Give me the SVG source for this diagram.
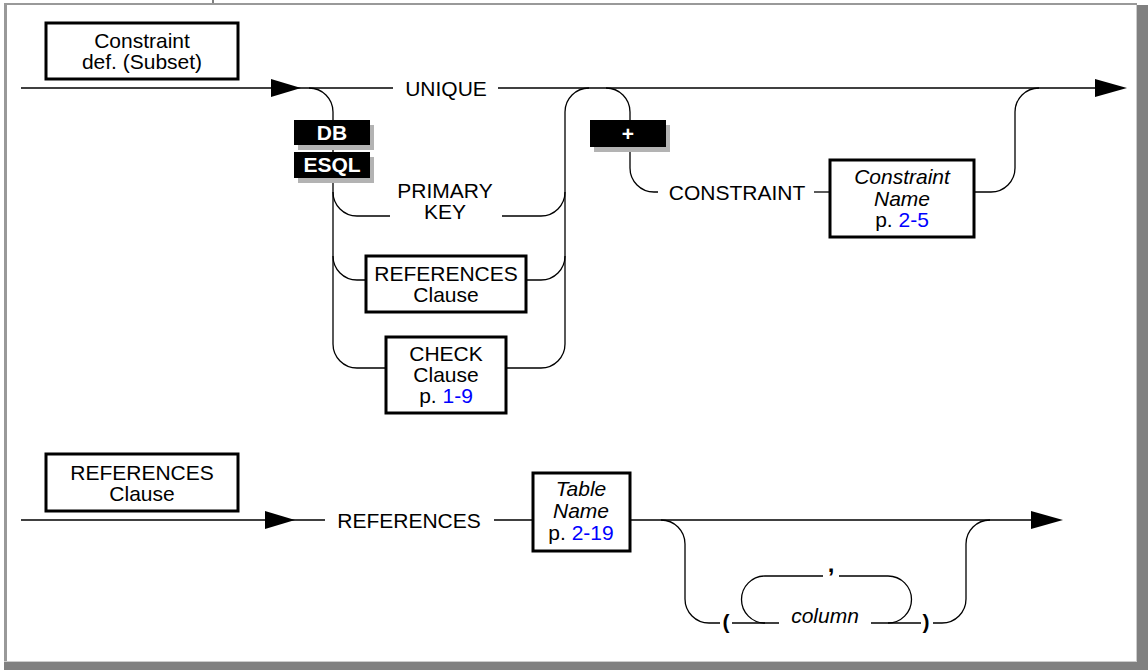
<svg xmlns="http://www.w3.org/2000/svg" width="1148" height="670" viewBox="0 0 1148 670">
<style>
text{font-family:"Liberation Sans",Arial,sans-serif;font-size:21px;fill:#000}
.c{text-anchor:middle}
.i{font-style:italic}
.b{font-weight:bold;font-size:21px}
.cm{font-weight:bold;font-size:24px}
.w{fill:#fff;font-weight:bold}
.lnk{fill:#0000ff}
.box{fill:#fff;stroke:#000;stroke-width:3}
.ln{fill:none;stroke:#000;stroke-width:1.3}
.badge{fill:#000}
.shadow{fill:#b3b3b3}
.ah{fill:#000}
</style>
<rect x="0" y="0" width="1148" height="670" fill="#fff"/>
<g id="frame">
<line x1="213" y1="0" x2="213" y2="3" stroke="#000" stroke-width="1"/>
<rect x="4" y="3" width="1133" height="2" fill="#999"/>
<rect x="4" y="3" width="3" height="658" fill="#999"/>
<rect x="1136" y="5" width="1" height="656" fill="#ccc"/>
<rect x="1137" y="5" width="11" height="665" fill="#808080"/>
<rect x="4" y="661" width="1133" height="1" fill="#ccc"/>
<rect x="4" y="662" width="1144" height="8" fill="#808080"/>
</g>
<g id="connectors">
<path class="ln" d="M21,88 H393"/>
<path class="ln" d="M498,88 H1100"/>
<path class="ln" d="M309,88 A24,24 0 0 1 333,112 V344 A24,24 0 0 0 357,368 H385"/>
<path class="ln" d="M333,192 A24,24 0 0 0 357,216 H390"/>
<path class="ln" d="M502,216 H541 A24,24 0 0 0 565,192"/>
<path class="ln" d="M333,256 A24,24 0 0 0 357,280 H365"/>
<path class="ln" d="M527,280 H541 A24,24 0 0 0 565,256"/>
<path class="ln" d="M507,368 H541 A24,24 0 0 0 565,344 V112 A24,24 0 0 1 589,88"/>
<path class="ln" d="M606,88 A24,24 0 0 1 630,112 V168 A24,24 0 0 0 654,192 H658"/>
<path class="ln" d="M814,192 H829"/>
<path class="ln" d="M975,192 H991 A24,24 0 0 0 1015,168 V112 A24,24 0 0 1 1039,88"/>
<polygon class="ah" points="271,79 301,88 271,97"/>
<polygon class="ah" points="1095,79 1127,88 1095,97"/>
<path class="ln" d="M21,520 H325"/>
<path class="ln" d="M494,520 H532"/>
<path class="ln" d="M631,520 H1035"/>
<path class="ln" d="M661,520 A24,24 0 0 1 685,544 V599 A24,24 0 0 0 709,623 H720"/>
<path class="ln" d="M732,623 H779"/>
<path class="ln" d="M871,623 H921"/>
<path class="ln" d="M933,623 H942 A24,24 0 0 0 966,599 V544 A24,24 0 0 1 990,520"/>
<path class="ln" d="M765,623 A23.5,23.5 0 0 1 765,576 H823"/>
<path class="ln" d="M839,576 H888 A23.5,23.5 0 0 1 888,623"/>
<polygon class="ah" points="265,511 295,520 265,529"/>
<polygon class="ah" points="1031,511 1063,520 1031,529"/>
</g>
<g id="hdr1">
<rect class="box" x="46" y="23" width="192" height="56"/>
<text class="c" x="142" y="48">Constraint</text>
<text class="c" x="142" y="69">def. (Subset)</text>
</g>
<g id="unique"><text class="c" x="446" y="95.5">UNIQUE</text></g>
<g id="db">
<rect class="shadow" x="298" y="125" width="76" height="25"/>
<rect class="badge" x="294" y="120" width="76" height="25"/>
<text class="c w" x="332" y="140">DB</text>
</g>
<g id="esql">
<rect class="shadow" x="298" y="157" width="76" height="26"/>
<rect class="badge" x="294" y="152" width="76" height="26"/>
<text class="c w" x="332" y="172">ESQL</text>
</g>
<g id="pk">
<text class="c" x="445" y="198">PRIMARY</text>
<text class="c" x="445" y="219">KEY</text>
</g>
<g id="refclause">
<rect class="box" x="366" y="256" width="160" height="56"/>
<text class="c" x="446" y="281">REFERENCES</text>
<text class="c" x="446" y="302">Clause</text>
</g>
<g id="check">
<rect class="box" x="386" y="337" width="120" height="76"/>
<text class="c" x="446" y="361">CHECK</text>
<text class="c" x="446" y="382">Clause</text>
<text class="c" x="446" y="403">p. <tspan class="lnk">1-9</tspan></text>
</g>
<g id="plus">
<rect class="shadow" x="594" y="125" width="76" height="27"/>
<rect class="badge" x="590" y="120" width="76" height="27"/>
<text class="c w" x="628" y="141">+</text>
</g>
<g id="constraint"><text class="c" x="737" y="199.5">CONSTRAINT</text></g>
<g id="cname">
<rect class="box" x="830" y="160" width="144" height="77"/>
<text class="c i" x="902" y="184">Constraint</text>
<text class="c i" x="902" y="206">Name</text>
<text class="c" x="902" y="227">p. <tspan class="lnk">2-5</tspan></text>
</g>
<g id="hdr2">
<rect class="box" x="46" y="454" width="192" height="57"/>
<text class="c" x="142" y="480">REFERENCES</text>
<text class="c" x="142" y="501">Clause</text>
</g>
<g id="references"><text class="c" x="409" y="527.5">REFERENCES</text></g>
<g id="tname">
<rect class="box" x="533" y="473" width="97" height="78"/>
<text class="c i" x="581" y="496">Table</text>
<text class="c i" x="581" y="518">Name</text>
<text class="c" x="581" y="540">p. <tspan class="lnk">2-19</tspan></text>
</g>
<g id="lparen"><text class="c b" x="726" y="629">(</text></g>
<g id="comma"><text class="c cm" x="831" y="572">,</text></g>
<g id="column"><text class="c i" x="825" y="623">column</text></g>
<g id="rparen"><text class="c b" x="926" y="629">)</text></g>
</svg>
